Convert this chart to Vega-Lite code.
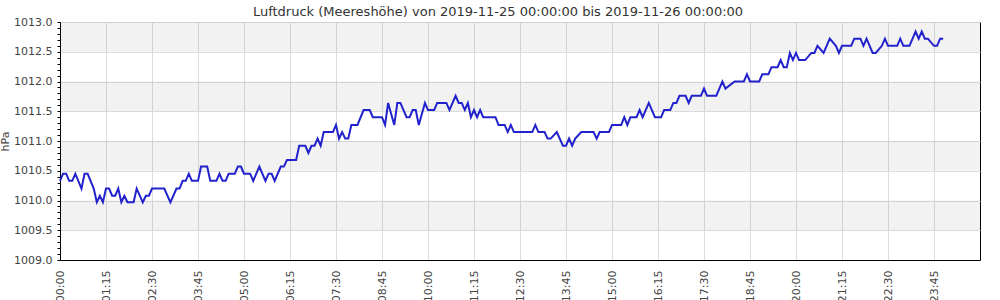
{
  "$schema": "https://vega.github.io/schema/vega-lite/v6.json",
  "width": 920,
  "height": 238,
  "autosize": {"type": "none"},
  "padding": {"left": 60, "top": 22, "right": 20, "bottom": 40},
  "background": "white",
  "title": {
    "text": "Luftdruck (Meereshöhe) von 2019-11-25 00:00:00 bis 2019-11-26 00:00:00",
    "font": "DejaVu Sans",
    "fontSize": 13,
    "fontWeight": "normal",
    "color": "#333333",
    "anchor": "middle",
    "dx": -22,
    "offset": -3
  },
  "config": {"view": {"stroke": "#000000", "strokeWidth": 1}, "font": "DejaVu Sans"},
  "datasets": {
    "bands": [
      {"v": 1009.5, "hi": 1010.0},
      {"v": 1010.5, "hi": 1011.0},
      {"v": 1011.5, "hi": 1012.0},
      {"v": 1012.5, "hi": 1013.0}
    ],
    "p": [
      {"t": "2019-11-25T00:00", "v": 1010.33},
      {"t": "2019-11-25T00:05", "v": 1010.45},
      {"t": "2019-11-25T00:10", "v": 1010.45},
      {"t": "2019-11-25T00:15", "v": 1010.33},
      {"t": "2019-11-25T00:20", "v": 1010.33},
      {"t": "2019-11-25T00:25", "v": 1010.45},
      {"t": "2019-11-25T00:35", "v": 1010.20},
      {"t": "2019-11-25T00:40", "v": 1010.45},
      {"t": "2019-11-25T00:45", "v": 1010.45},
      {"t": "2019-11-25T00:55", "v": 1010.20},
      {"t": "2019-11-25T01:00", "v": 1009.97},
      {"t": "2019-11-25T01:05", "v": 1010.08},
      {"t": "2019-11-25T01:10", "v": 1009.97},
      {"t": "2019-11-25T01:15", "v": 1010.20},
      {"t": "2019-11-25T01:20", "v": 1010.20},
      {"t": "2019-11-25T01:25", "v": 1010.08},
      {"t": "2019-11-25T01:30", "v": 1010.08},
      {"t": "2019-11-25T01:35", "v": 1010.20},
      {"t": "2019-11-25T01:40", "v": 1009.97},
      {"t": "2019-11-25T01:45", "v": 1010.08},
      {"t": "2019-11-25T01:50", "v": 1009.97},
      {"t": "2019-11-25T02:00", "v": 1009.97},
      {"t": "2019-11-25T02:05", "v": 1010.20},
      {"t": "2019-11-25T02:15", "v": 1009.97},
      {"t": "2019-11-25T02:20", "v": 1010.08},
      {"t": "2019-11-25T02:25", "v": 1010.08},
      {"t": "2019-11-25T02:30", "v": 1010.20},
      {"t": "2019-11-25T02:50", "v": 1010.20},
      {"t": "2019-11-25T03:00", "v": 1009.97},
      {"t": "2019-11-25T03:10", "v": 1010.20},
      {"t": "2019-11-25T03:15", "v": 1010.20},
      {"t": "2019-11-25T03:20", "v": 1010.33},
      {"t": "2019-11-25T03:25", "v": 1010.33},
      {"t": "2019-11-25T03:30", "v": 1010.45},
      {"t": "2019-11-25T03:35", "v": 1010.33},
      {"t": "2019-11-25T03:45", "v": 1010.33},
      {"t": "2019-11-25T03:50", "v": 1010.57},
      {"t": "2019-11-25T04:00", "v": 1010.57},
      {"t": "2019-11-25T04:05", "v": 1010.33},
      {"t": "2019-11-25T04:15", "v": 1010.33},
      {"t": "2019-11-25T04:20", "v": 1010.45},
      {"t": "2019-11-25T04:25", "v": 1010.33},
      {"t": "2019-11-25T04:30", "v": 1010.33},
      {"t": "2019-11-25T04:35", "v": 1010.45},
      {"t": "2019-11-25T04:45", "v": 1010.45},
      {"t": "2019-11-25T04:50", "v": 1010.57},
      {"t": "2019-11-25T04:55", "v": 1010.57},
      {"t": "2019-11-25T05:00", "v": 1010.45},
      {"t": "2019-11-25T05:10", "v": 1010.45},
      {"t": "2019-11-25T05:15", "v": 1010.33},
      {"t": "2019-11-25T05:25", "v": 1010.57},
      {"t": "2019-11-25T05:35", "v": 1010.33},
      {"t": "2019-11-25T05:40", "v": 1010.45},
      {"t": "2019-11-25T05:45", "v": 1010.45},
      {"t": "2019-11-25T05:50", "v": 1010.33},
      {"t": "2019-11-25T06:00", "v": 1010.57},
      {"t": "2019-11-25T06:05", "v": 1010.57},
      {"t": "2019-11-25T06:10", "v": 1010.68},
      {"t": "2019-11-25T06:25", "v": 1010.68},
      {"t": "2019-11-25T06:30", "v": 1010.92},
      {"t": "2019-11-25T06:40", "v": 1010.92},
      {"t": "2019-11-25T06:45", "v": 1010.80},
      {"t": "2019-11-25T06:50", "v": 1010.92},
      {"t": "2019-11-25T06:55", "v": 1010.92},
      {"t": "2019-11-25T07:00", "v": 1011.04},
      {"t": "2019-11-25T07:05", "v": 1010.92},
      {"t": "2019-11-25T07:10", "v": 1011.15},
      {"t": "2019-11-25T07:25", "v": 1011.15},
      {"t": "2019-11-25T07:30", "v": 1011.27},
      {"t": "2019-11-25T07:35", "v": 1011.04},
      {"t": "2019-11-25T07:40", "v": 1011.15},
      {"t": "2019-11-25T07:45", "v": 1011.04},
      {"t": "2019-11-25T07:50", "v": 1011.04},
      {"t": "2019-11-25T07:55", "v": 1011.27},
      {"t": "2019-11-25T08:05", "v": 1011.27},
      {"t": "2019-11-25T08:15", "v": 1011.52},
      {"t": "2019-11-25T08:25", "v": 1011.52},
      {"t": "2019-11-25T08:30", "v": 1011.40},
      {"t": "2019-11-25T08:45", "v": 1011.40},
      {"t": "2019-11-25T08:50", "v": 1011.27},
      {"t": "2019-11-25T08:55", "v": 1011.64},
      {"t": "2019-11-25T09:05", "v": 1011.27},
      {"t": "2019-11-25T09:10", "v": 1011.64},
      {"t": "2019-11-25T09:15", "v": 1011.64},
      {"t": "2019-11-25T09:25", "v": 1011.40},
      {"t": "2019-11-25T09:30", "v": 1011.40},
      {"t": "2019-11-25T09:35", "v": 1011.52},
      {"t": "2019-11-25T09:40", "v": 1011.52},
      {"t": "2019-11-25T09:45", "v": 1011.27},
      {"t": "2019-11-25T09:55", "v": 1011.64},
      {"t": "2019-11-25T10:00", "v": 1011.52},
      {"t": "2019-11-25T10:10", "v": 1011.52},
      {"t": "2019-11-25T10:15", "v": 1011.64},
      {"t": "2019-11-25T10:30", "v": 1011.64},
      {"t": "2019-11-25T10:35", "v": 1011.52},
      {"t": "2019-11-25T10:45", "v": 1011.76},
      {"t": "2019-11-25T10:50", "v": 1011.64},
      {"t": "2019-11-25T10:55", "v": 1011.64},
      {"t": "2019-11-25T11:00", "v": 1011.52},
      {"t": "2019-11-25T11:05", "v": 1011.64},
      {"t": "2019-11-25T11:10", "v": 1011.40},
      {"t": "2019-11-25T11:15", "v": 1011.52},
      {"t": "2019-11-25T11:20", "v": 1011.40},
      {"t": "2019-11-25T11:25", "v": 1011.52},
      {"t": "2019-11-25T11:30", "v": 1011.40},
      {"t": "2019-11-25T11:50", "v": 1011.40},
      {"t": "2019-11-25T11:55", "v": 1011.27},
      {"t": "2019-11-25T12:05", "v": 1011.27},
      {"t": "2019-11-25T12:10", "v": 1011.15},
      {"t": "2019-11-25T12:15", "v": 1011.27},
      {"t": "2019-11-25T12:20", "v": 1011.15},
      {"t": "2019-11-25T12:50", "v": 1011.15},
      {"t": "2019-11-25T12:55", "v": 1011.27},
      {"t": "2019-11-25T13:00", "v": 1011.15},
      {"t": "2019-11-25T13:10", "v": 1011.15},
      {"t": "2019-11-25T13:15", "v": 1011.04},
      {"t": "2019-11-25T13:20", "v": 1011.04},
      {"t": "2019-11-25T13:30", "v": 1011.15},
      {"t": "2019-11-25T13:40", "v": 1010.92},
      {"t": "2019-11-25T13:45", "v": 1010.92},
      {"t": "2019-11-25T13:50", "v": 1011.04},
      {"t": "2019-11-25T13:55", "v": 1010.92},
      {"t": "2019-11-25T14:00", "v": 1011.04},
      {"t": "2019-11-25T14:10", "v": 1011.15},
      {"t": "2019-11-25T14:30", "v": 1011.15},
      {"t": "2019-11-25T14:35", "v": 1011.04},
      {"t": "2019-11-25T14:40", "v": 1011.15},
      {"t": "2019-11-25T14:55", "v": 1011.15},
      {"t": "2019-11-25T15:00", "v": 1011.27},
      {"t": "2019-11-25T15:15", "v": 1011.27},
      {"t": "2019-11-25T15:20", "v": 1011.40},
      {"t": "2019-11-25T15:25", "v": 1011.27},
      {"t": "2019-11-25T15:30", "v": 1011.40},
      {"t": "2019-11-25T15:40", "v": 1011.40},
      {"t": "2019-11-25T15:45", "v": 1011.52},
      {"t": "2019-11-25T15:50", "v": 1011.40},
      {"t": "2019-11-25T16:00", "v": 1011.64},
      {"t": "2019-11-25T16:10", "v": 1011.40},
      {"t": "2019-11-25T16:20", "v": 1011.40},
      {"t": "2019-11-25T16:25", "v": 1011.52},
      {"t": "2019-11-25T16:35", "v": 1011.52},
      {"t": "2019-11-25T16:40", "v": 1011.64},
      {"t": "2019-11-25T16:45", "v": 1011.64},
      {"t": "2019-11-25T16:50", "v": 1011.76},
      {"t": "2019-11-25T17:00", "v": 1011.76},
      {"t": "2019-11-25T17:05", "v": 1011.64},
      {"t": "2019-11-25T17:10", "v": 1011.76},
      {"t": "2019-11-25T17:25", "v": 1011.76},
      {"t": "2019-11-25T17:30", "v": 1011.88},
      {"t": "2019-11-25T17:35", "v": 1011.76},
      {"t": "2019-11-25T17:50", "v": 1011.76},
      {"t": "2019-11-25T17:55", "v": 1011.88},
      {"t": "2019-11-25T18:00", "v": 1012.00},
      {"t": "2019-11-25T18:05", "v": 1011.88},
      {"t": "2019-11-25T18:20", "v": 1012.00},
      {"t": "2019-11-25T18:35", "v": 1012.00},
      {"t": "2019-11-25T18:40", "v": 1012.12},
      {"t": "2019-11-25T18:45", "v": 1012.00},
      {"t": "2019-11-25T19:00", "v": 1012.00},
      {"t": "2019-11-25T19:05", "v": 1012.12},
      {"t": "2019-11-25T19:15", "v": 1012.12},
      {"t": "2019-11-25T19:20", "v": 1012.24},
      {"t": "2019-11-25T19:30", "v": 1012.24},
      {"t": "2019-11-25T19:35", "v": 1012.36},
      {"t": "2019-11-25T19:40", "v": 1012.24},
      {"t": "2019-11-25T19:45", "v": 1012.24},
      {"t": "2019-11-25T19:50", "v": 1012.48},
      {"t": "2019-11-25T19:55", "v": 1012.36},
      {"t": "2019-11-25T20:00", "v": 1012.48},
      {"t": "2019-11-25T20:05", "v": 1012.36},
      {"t": "2019-11-25T20:15", "v": 1012.36},
      {"t": "2019-11-25T20:25", "v": 1012.48},
      {"t": "2019-11-25T20:30", "v": 1012.48},
      {"t": "2019-11-25T20:35", "v": 1012.60},
      {"t": "2019-11-25T20:45", "v": 1012.48},
      {"t": "2019-11-25T20:50", "v": 1012.60},
      {"t": "2019-11-25T20:55", "v": 1012.72},
      {"t": "2019-11-25T21:05", "v": 1012.60},
      {"t": "2019-11-25T21:10", "v": 1012.48},
      {"t": "2019-11-25T21:15", "v": 1012.60},
      {"t": "2019-11-25T21:30", "v": 1012.60},
      {"t": "2019-11-25T21:35", "v": 1012.72},
      {"t": "2019-11-25T21:45", "v": 1012.72},
      {"t": "2019-11-25T21:50", "v": 1012.60},
      {"t": "2019-11-25T21:55", "v": 1012.72},
      {"t": "2019-11-25T22:05", "v": 1012.48},
      {"t": "2019-11-25T22:10", "v": 1012.48},
      {"t": "2019-11-25T22:20", "v": 1012.60},
      {"t": "2019-11-25T22:25", "v": 1012.72},
      {"t": "2019-11-25T22:30", "v": 1012.60},
      {"t": "2019-11-25T22:45", "v": 1012.60},
      {"t": "2019-11-25T22:50", "v": 1012.72},
      {"t": "2019-11-25T22:55", "v": 1012.60},
      {"t": "2019-11-25T23:05", "v": 1012.60},
      {"t": "2019-11-25T23:15", "v": 1012.84},
      {"t": "2019-11-25T23:20", "v": 1012.72},
      {"t": "2019-11-25T23:25", "v": 1012.84},
      {"t": "2019-11-25T23:30", "v": 1012.72},
      {"t": "2019-11-25T23:35", "v": 1012.72},
      {"t": "2019-11-25T23:45", "v": 1012.60},
      {"t": "2019-11-25T23:50", "v": 1012.60},
      {"t": "2019-11-25T23:55", "v": 1012.72},
      {"t": "2019-11-26T00:00", "v": 1012.72}
    ]
  },
  "encoding": {
    "y": {
      "field": "v",
      "type": "quantitative",
      "scale": {"domain": [1009, 1013], "nice": false, "zero": false},
      "axis": {
        "title": "hPa",
        "values": [1009.0,1009.1,1009.2,1009.3,1009.4,1009.5,1009.6,1009.7,1009.8,1009.9,1010.0,1010.1,1010.2,1010.3,1010.4,1010.5,1010.6,1010.7,1010.8,1010.9,1011.0,1011.1,1011.2,1011.3,1011.4,1011.5,1011.6,1011.7,1011.8,1011.9,1012.0,1012.1,1012.2,1012.3,1012.4,1012.5,1012.6,1012.7,1012.8,1012.9,1013.0],
        "labelExpr": "abs(datum.value*2 - round(datum.value*2)) < 0.001 ? format(datum.value, '.1f') : ''",
        "gridOpacity": {"condition": {"test": "abs(datum.value*2 - round(datum.value*2)) < 0.001", "value": 1}, "value": 0},
        "gridColor": "#dddddd",
        "tickSize": 3,
        "tickColor": "#000000",
        "domainColor": "#000000",
        "labelFont": "DejaVu Sans",
        "labelFontSize": 11,
        "labelColor": "#444444",
        "labelPadding": 5,
        "labelOverlap": false,
        "labelFlush": false,
        "titleFont": "DejaVu Sans",
        "titleFontSize": 11,
        "titleFontWeight": "normal",
        "titleColor": "#444444",
        "titlePadding": 3,
        "zindex": 0
      }
    }
  },
  "layer": [
    {
      "data": {"name": "bands"},
      "mark": {"type": "rect", "color": "#000000", "opacity": 0.05},
      "encoding": {
        "y2": {"field": "hi"}
      }
    },
    {
      "data": {"name": "p"},
      "mark": {"type": "line", "color": "#2222cc", "strokeWidth": 2},
      "encoding": {
        "x": {
          "field": "t",
          "type": "temporal",
          "scale": {"domain": [{"year": 2019, "month": 11, "date": 25, "hours": 0, "minutes": 0}, {"year": 2019, "month": 11, "date": 26, "hours": 1, "minutes": 0}]},
          "axis": {
            "title": null,
            "format": "%H:%M",
            "values": [
              {"year": 2019, "month": 11, "date": 25, "hours": 0, "minutes": 0},
              {"year": 2019, "month": 11, "date": 25, "hours": 1, "minutes": 15},
              {"year": 2019, "month": 11, "date": 25, "hours": 2, "minutes": 30},
              {"year": 2019, "month": 11, "date": 25, "hours": 3, "minutes": 45},
              {"year": 2019, "month": 11, "date": 25, "hours": 5, "minutes": 0},
              {"year": 2019, "month": 11, "date": 25, "hours": 6, "minutes": 15},
              {"year": 2019, "month": 11, "date": 25, "hours": 7, "minutes": 30},
              {"year": 2019, "month": 11, "date": 25, "hours": 8, "minutes": 45},
              {"year": 2019, "month": 11, "date": 25, "hours": 10, "minutes": 0},
              {"year": 2019, "month": 11, "date": 25, "hours": 11, "minutes": 15},
              {"year": 2019, "month": 11, "date": 25, "hours": 12, "minutes": 30},
              {"year": 2019, "month": 11, "date": 25, "hours": 13, "minutes": 45},
              {"year": 2019, "month": 11, "date": 25, "hours": 15, "minutes": 0},
              {"year": 2019, "month": 11, "date": 25, "hours": 16, "minutes": 15},
              {"year": 2019, "month": 11, "date": 25, "hours": 17, "minutes": 30},
              {"year": 2019, "month": 11, "date": 25, "hours": 18, "minutes": 45},
              {"year": 2019, "month": 11, "date": 25, "hours": 20, "minutes": 0},
              {"year": 2019, "month": 11, "date": 25, "hours": 21, "minutes": 15},
              {"year": 2019, "month": 11, "date": 25, "hours": 22, "minutes": 30},
              {"year": 2019, "month": 11, "date": 25, "hours": 23, "minutes": 45}
            ],
            "labelAngle": -90,
            "ticks": false,
            "labelPadding": 10,
            "grid": true,
            "gridColor": "#dddddd",
            "domainColor": "#000000",
            "labelFont": "DejaVu Sans",
            "labelFontSize": 11,
            "labelColor": "#444444",
            "labelFlush": false,
            "labelOverlap": false,
            "zindex": 0
          }
        }
      }
    }
  ]
}
